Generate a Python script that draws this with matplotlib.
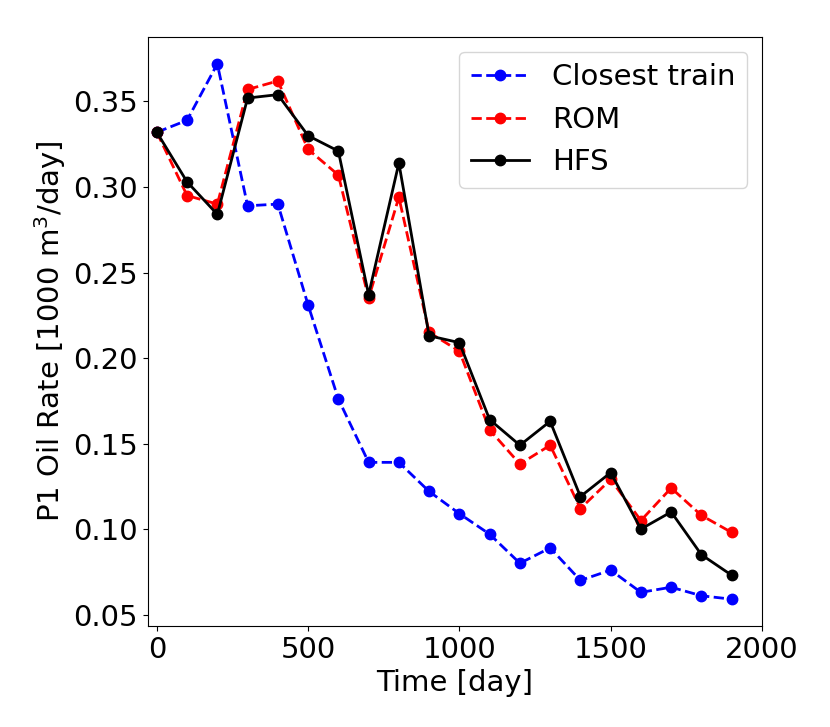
import matplotlib
matplotlib.use('Agg')
import matplotlib.pyplot as plt
import numpy as np

# time steps [day]
t = np.arange(0, 2000, 100)

closest = [0.332, 0.339, 0.372, 0.289, 0.290, 0.231, 0.176, 0.139, 0.139, 0.122,
           0.109, 0.097, 0.080, 0.089, 0.070, 0.076, 0.063, 0.066, 0.061, 0.059]
rom = [0.332, 0.295, 0.290, 0.357, 0.362, 0.322, 0.307, 0.235, 0.294, 0.215,
       0.204, 0.158, 0.138, 0.149, 0.112, 0.129, 0.105, 0.124, 0.108, 0.098]
hfs = [0.332, 0.303, 0.284, 0.352, 0.354, 0.330, 0.321, 0.237, 0.314, 0.213,
       0.209, 0.164, 0.149, 0.163, 0.119, 0.133, 0.100, 0.110, 0.085, 0.073]

plt.rcParams['font.size'] = 21

fig = plt.figure(figsize=(8.3, 7.27), dpi=100)
ax = fig.add_axes([0.178, 0.139, 0.740, 0.810])

ax.plot(t, closest, 'b--o', lw=2, ms=7.5, label='Closest train')
ax.plot(t, rom, 'r--o', lw=2, ms=7.5, label='ROM')
ax.plot(t, hfs, 'k-o', lw=2, ms=7.5, label='HFS')

ax.set_xlim(-30, 2000)
ax.set_xlabel('Time [day]')
ax.set_ylabel('P1 Oil Rate [1000 m$^3$/day]')
ax.legend(loc='upper right')

fig.savefig('out.png', dpi=100)
